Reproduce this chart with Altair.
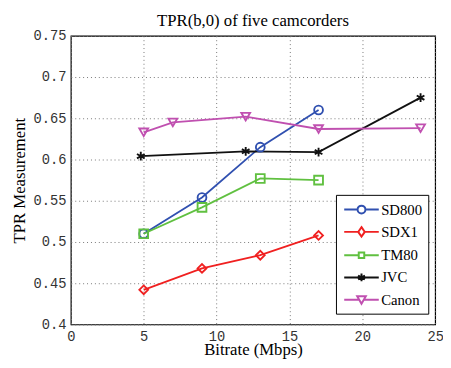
import altair as alt
import pandas as pd

cams = ["SD800", "SDX1", "TM80", "JVC", "Canon"]
colors = ["#3050b0", "#f02020", "#60c040", "#111111", "#c050b0"]

sd800_x = [5, 9, 13, 17]
sd800_y = [0.510, 0.554, 0.615, 0.660]
sdx1_x = [5, 9, 13, 17]
sdx1_y = [0.442, 0.468, 0.484, 0.508]
tm80_x = [5, 9, 13, 17]
tm80_y = [0.510, 0.542, 0.577, 0.575]
jvc_x = [4.8, 12, 17, 24]
jvc_y = [0.604, 0.610, 0.609, 0.675]
canon_x = [5, 7, 12, 17, 24]
canon_y = [0.633, 0.645, 0.652, 0.637, 0.638]

x_ticks = [0, 5, 10, 15, 20, 25]
y_ticks = [0.4, 0.45, 0.5, 0.55, 0.6, 0.65, 0.7, 0.75]

series = {
    "SD800": (sd800_x, sd800_y),
    "SDX1": (sdx1_x, sdx1_y),
    "TM80": (tm80_x, tm80_y),
    "JVC": (jvc_x, jvc_y),
    "Canon": (canon_x, canon_y),
}
rows = []
for cam, (xs, ys) in series.items():
    for i, (xv, yv) in enumerate(zip(xs, ys)):
        rows.append({"cam": cam, "bitrate": xv, "tpr": yv, "order": i})
df = pd.DataFrame(rows)

asterisk = "M0,-1L0,1M-0.87,-0.5L0.87,0.5M-0.87,0.5L0.87,-0.5"
plot_shapes = ["circle", "diamond", "square", asterisk, "triangle-down"]
plot_sizes = [80, 80, 45, 75, 95]

leg_paths = [
    "M-2.2,0L-0.5,0M0.5,0L2.2,0M-0.5,0A0.5,0.5 0 1,0 0.5,0A0.5,0.5 0 1,0 -0.5,0",
    "M-2.2,0L-0.42,0M0.42,0L2.2,0M0,-0.6L0.42,0L0,0.6L-0.42,0Z",
    "M-2.2,0L-0.35,0M0.35,0L2.2,0M-0.35,-0.35L0.35,-0.35L0.35,0.35L-0.35,0.35Z",
    "M-2.2,0L2.2,0M0,-0.5L0,0.5M-0.43,-0.25L0.43,0.25M-0.43,0.25L0.43,-0.25",
    "M-2.2,0L-0.28,0M0.28,0L2.2,0M-0.55,-0.45L0.55,-0.45L0,0.52Z",
]

legend = alt.Legend(
    title=None,
    orient="none",
    legendX=270,
    legendY=162,
    fillColor="white",
    strokeColor="black",
    padding=6,
    symbolSize=256,
    symbolStrokeWidth=2,
    symbolOpacity=1,
    symbolOffset=11,
    labelOffset=11,
    labelFont="Liberation Serif",
    labelFontSize=15,
    labelColor="black",
    rowPadding=5.7,
)

xenc = alt.X(
    "bitrate:Q",
    scale=alt.Scale(domain=[0, 25], nice=False, zero=False),
    axis=alt.Axis(values=x_ticks, title="Bitrate (Mbps)", format="d",
                  titleY=31, titleBaseline="alphabetic", labelFlush=False),
)
yenc = alt.Y(
    "tpr:Q",
    scale=alt.Scale(domain=[0.4, 0.75], nice=False, zero=False),
    axis=alt.Axis(values=y_ticks, title="TPR Measurement", format=".2~f", labelFlush=False),
)
color_plain = alt.Color("cam:N", scale=alt.Scale(domain=cams, range=colors), legend=None)

lines = alt.Chart(df).mark_line(strokeWidth=1.8).encode(
    x=xenc, y=yenc, color=color_plain, order="order:Q", detail="cam:N"
)
points = alt.Chart(df).mark_point(filled=False, strokeWidth=1.9, opacity=1).encode(
    x=xenc,
    y=yenc,
    color=color_plain,
    shape=alt.Shape("cam:N", scale=alt.Scale(domain=cams, range=plot_shapes), legend=None),
    size=alt.Size("cam:N", scale=alt.Scale(domain=cams, range=plot_sizes), legend=None),
)
legend_layer = alt.Chart(df).mark_point(filled=False, strokeWidth=2, opacity=0).encode(
    x=xenc,
    y=yenc,
    color=alt.Color("cam:N", scale=alt.Scale(domain=cams, range=colors), legend=legend),
    shape=alt.Shape("cam:N", scale=alt.Scale(domain=cams, range=leg_paths), legend=legend),
)

chart = (
    alt.layer(lines, points, legend_layer)
    .resolve_scale(color="independent", shape="independent")
    .properties(
        width=371,
        height=294,
        autosize=alt.AutoSizeParams(type="none"),
        padding={"left": 64, "top": 25, "right": 8, "bottom": 40},
        title=alt.TitleParams(
            "TPR(b,0) of five camcorders",
            font="Liberation Serif",
            fontSize=17,
            fontWeight="normal",
            anchor="middle",
            frame="group",
            baseline="bottom",
            offset=-18,
            color="black",
        ),
    )
    .configure_view(stroke="black", strokeWidth=1.2)
    .configure_legend(labelFont="Liberation Serif", labelFontSize=15, labelColor="black")
    .configure_title(font="Liberation Serif", fontSize=17, fontWeight="normal", color="black")
    .configure_axis(
        labelFont="Liberation Mono",
        labelFontSize=14,
        labelColor="#333333",
        titleFont="Liberation Serif",
        titleFontSize=17,
        titleFontWeight="normal",
        titleColor="black",
        grid=True,
        gridDash=[1, 3],
        gridColor="#777777",
        gridWidth=1,
        domain=False,
        ticks=False,
        labelPadding=5,
    )
    .configure_axisY(titlePadding=5)
)

chart.save("out.html", embed_options={"renderer": "svg", "actions": False})
